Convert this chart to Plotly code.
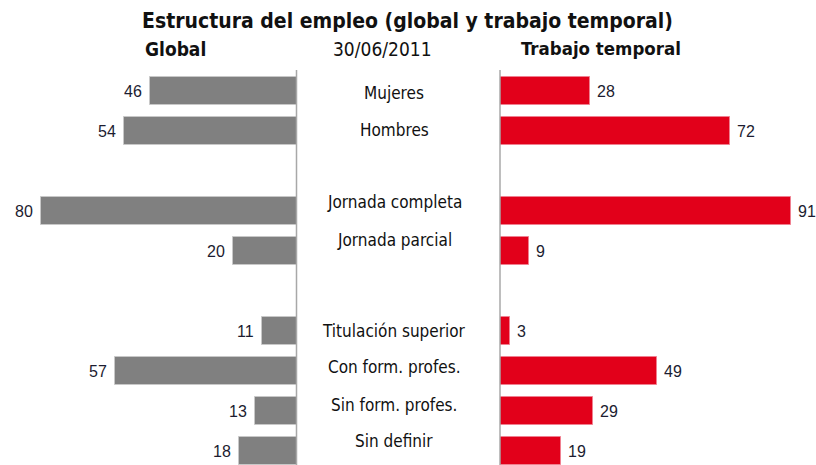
import plotly.graph_objects as go

# ---- data ----
categories = ["Mujeres", "Hombres", "Jornada completa", "Jornada parcial",
              "Titulación superior", "Con form. profes.", "Sin form. profes.", "Sin definir"]
global_vals = [46, 54, 80, 20, 11, 57, 13, 18]
temporal_vals = [28, 72, 91, 9, 3, 49, 29, 19]
title_text = "Estructura del empleo (global y trabajo temporal)"
left_title = "Global"
center_title = "30/06/2011"
right_title = "Trabajo temporal"

# ---- layout helpers ----
group_sizes = [2, 2, 4]
rows = []
r = 0
for g in group_sizes:
    for _ in range(g):
        rows.append(r)
        r += 1
    r += 1  # blank row between groups
label_shift_px = [1.5, -1.5, -9, -11, 0, -4, -6, -10]

W, H = 816, 465
LEFT_ZERO, RIGHT_ZERO = 297, 500
PX_PER_UNIT = 3.2
ROW_PX, FIRST_ROW_PX = 40, 91

narrow = "Liberation Sans Narrow, Arial Narrow, DejaVu Sans Condensed, sans-serif"
num_font = dict(family="Liberation Sans, Arial, sans-serif", size=16, color="#1c1c30")

fig = go.Figure()
fig.add_trace(go.Bar(y=rows, x=global_vals, orientation="h", width=0.7,
                     marker=dict(color="#808080", line=dict(color="#c8c8c8", width=1)),
                     xaxis="x", yaxis="y", hoverinfo="skip", showlegend=False))
fig.add_trace(go.Bar(y=rows, x=temporal_vals, orientation="h", width=0.7,
                     marker=dict(color="#e2001a", line=dict(color="#f08090", width=1)),
                     xaxis="x2", yaxis="y2", hoverinfo="skip", showlegend=False))

y_top = -FIRST_ROW_PX / ROW_PX
y_bot = (H - FIRST_ROW_PX) / ROW_PX
yax = dict(range=[y_bot, y_top], domain=[0, 1], visible=False, fixedrange=True)

annotations = []
for i, (row, g, t) in enumerate(zip(rows, global_vals, temporal_vals)):
    annotations.append(dict(x=g, y=row, xref="x", yref="y", text=str(g), showarrow=False,
                            xanchor="right", xshift=-7, borderpad=0, font=num_font))
    annotations.append(dict(x=t, y=row, xref="x2", yref="y2", text=str(t), showarrow=False,
                            xanchor="left", xshift=6, borderpad=0, font=num_font))
    annotations.append(dict(x=394 / W, y=row + label_shift_px[i] / ROW_PX, xref="paper", yref="y",
                            text=categories[i], showarrow=False, xanchor="center", yanchor="middle",
                            font=dict(family=narrow, size=17, color="#111111")))

annotations.append(dict(x=407 / W, y=1 - 21 / H, xref="paper", yref="paper", text=f"<b>{title_text}</b>",
                        showarrow=False, xanchor="center", yanchor="middle",
                        font=dict(family=narrow, size=21, color="#111111")))
annotations.append(dict(x=175 / W, y=1 - 49 / H, xref="paper", yref="paper", text=f"<b>{left_title}</b>",
                        showarrow=False, xanchor="center", yanchor="middle",
                        font=dict(family=narrow, size=19, color="#111111")))
annotations.append(dict(x=382 / W, y=1 - 49 / H, xref="paper", yref="paper", text=center_title,
                        showarrow=False, xanchor="center", yanchor="middle",
                        font=dict(family=narrow, size=19, color="#111111")))
annotations.append(dict(x=601 / W, y=1 - 49 / H, xref="paper", yref="paper", text=f"<b>{right_title}</b>",
                        showarrow=False, xanchor="center", yanchor="middle",
                        font=dict(family=narrow, size=18.5, color="#111111")))

shapes = []
for xp in (LEFT_ZERO - 0.5, RIGHT_ZERO):
    shapes.append(dict(type="line", xref="paper", yref="paper", x0=xp / W, x1=xp / W,
                       y0=0, y1=1 - 70 / H, line=dict(color="#a8a8a8", width=1.5), layer="above"))

fig.update_layout(
    width=W, height=H, margin=dict(l=0, r=0, t=0, b=0),
    paper_bgcolor="white", plot_bgcolor="white",
    xaxis=dict(domain=[0, LEFT_ZERO / W], range=[LEFT_ZERO / PX_PER_UNIT, 0], visible=False, fixedrange=True),
    xaxis2=dict(domain=[RIGHT_ZERO / W, 1], range=[0, (W - RIGHT_ZERO) / PX_PER_UNIT], visible=False, fixedrange=True),
    yaxis=dict(yax, anchor="x"),
    yaxis2=dict(yax, anchor="x2"),
    annotations=annotations, shapes=shapes, bargap=0,
)

fig.write_html("out.html", config={"displayModeBar": False},
               post_script="document.body.style.margin='0px';document.body.style.overflow='hidden';")
